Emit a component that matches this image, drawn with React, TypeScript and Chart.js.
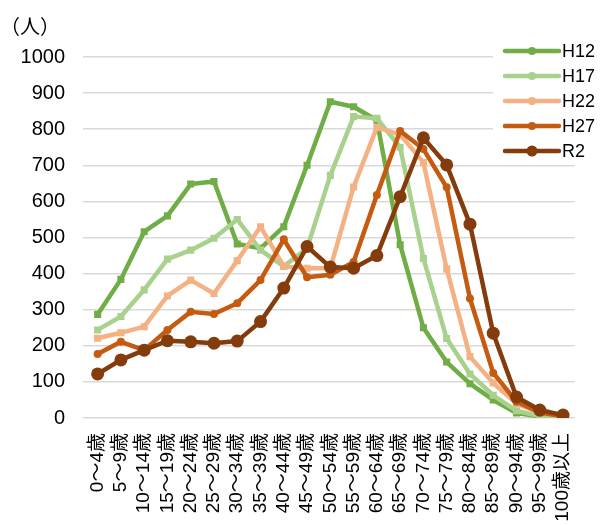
import React, { useEffect, useRef } from "react";
import { Chart, registerables } from "chart.js";

Chart.register(...registerables);

const categories = [
  "0～4歳", "5～9歳", "10～14歳", "15～19歳", "20～24歳", "25～29歳", "30～34歳",
  "35～39歳", "40～44歳", "45～49歳", "50～54歳", "55～59歳", "60～64歳", "65～69歳",
  "70～74歳", "75～79歳", "80～84歳", "85～89歳", "90～94歳", "95～99歳", "100歳以上",
];

const seriesNames = ["H12", "H17", "H22", "H27", "R2"];

const h12 = [287, 384, 516, 560, 648, 655, 482, 470, 530, 700, 876, 862, 825, 480, 250, 155, 95, 50, 14, 4, 1];
const h17 = [244, 281, 355, 440, 465, 498, 550, 465, 420, 470, 672, 835, 830, 750, 442, 220, 122, 63, 20, 5, 2];
const h22 = [221, 236, 253, 338, 382, 345, 436, 530, 420, 415, 415, 640, 805, 785, 708, 413, 170, 97, 40, 15, 5];
const h27 = [177, 211, 188, 244, 294, 288, 318, 382, 495, 390, 397, 432, 618, 795, 745, 639, 331, 125, 45, 15, 5];
const r2 = [122, 161, 188, 214, 211, 207, 213, 267, 360, 475, 418, 415, 450, 613, 776, 701, 537, 235, 58, 22, 8];

const seriesValues = [h12, h17, h22, h27, r2];
const colors = ["#70AD47", "#A9D18E", "#F4B183", "#C55A11", "#843C0C"];
const pointStyles = ["rect", "rect", "rect", "circle", "circle"];
const pointRadii = [5, 5, 5, 4, 6.5];
const legendRadii = [4, 4, 4, 4, 5.5];

const yMin = 0;
const yMax = 1000;
const yStep = 100;
const unitLabel = "（人）";

const latin = '"Liberation Sans", Arial, "Noto Sans CJK JP", sans-serif';

const overlayPlugin = {
  id: "overlay",
  afterDraw(chart: any) {
    const ctx = chart.ctx;
    ctx.save();
    ctx.fillStyle = "#000";
    ctx.font = '20px "Noto Sans CJK JP", sans-serif';
    ctx.textAlign = "center";
    ctx.textBaseline = "middle";
    ctx.fillText(unitLabel, 30, 26);

    ctx.fillStyle = "#fff";
    ctx.fillRect(493, 36, 108, 126);
    chart.data.datasets.forEach((ds: any, i: number) => {
      const y = 51 + i * 25;
      ctx.strokeStyle = ds.borderColor;
      ctx.lineWidth = 4.5;
      ctx.lineCap = "round";
      ctx.beginPath();
      ctx.moveTo(505, y);
      ctx.lineTo(559, y);
      ctx.stroke();
      ctx.fillStyle = ds.borderColor;
      ctx.beginPath();
      ctx.arc(532, y, legendRadii[i], 0, Math.PI * 2);
      ctx.fill();
      ctx.fillStyle = "#000";
      ctx.font = "18px " + latin;
      ctx.textAlign = "left";
      ctx.textBaseline = "middle";
      ctx.fillText(ds.label, 562, y + 1);
    });
    ctx.restore();
  },
};

export default function App() {
  const canvasRef = useRef<HTMLCanvasElement | null>(null);

  useEffect(() => {
    if (!canvasRef.current) return;
    const datasets = seriesNames.map((name, i) => ({
      label: name,
      data: seriesValues[i],
      borderColor: colors[i],
      backgroundColor: colors[i],
      pointBackgroundColor: colors[i],
      pointBorderColor: colors[i],
      pointStyle: pointStyles[i],
      pointRadius: pointRadii[i],
      pointBorderWidth: 0,
      borderWidth: 4.5,
      borderJoinStyle: "round",
      borderCapStyle: "round",
      tension: 0,
      order: seriesNames.length - 1 - i,
    }));
    const chart = new Chart(canvasRef.current, {
      type: "line",
      data: { labels: categories, datasets: datasets as any },
      options: {
        responsive: false,
        animation: false,
        layout: { padding: { top: 57, right: 7, left: 0, bottom: 0 } },
        plugins: { legend: { display: false }, tooltip: { enabled: false } },
        scales: {
          x: {
            type: "category",
            offset: true,
            grid: { display: false, drawTicks: false },
            border: { display: false },
            ticks: {
              autoSkip: false,
              maxRotation: 90,
              minRotation: 90,
              padding: 15,
              color: "#000",
              font: { size: 19, family: latin },
            },
            afterFit(scale: any) {
              scale.height = 107;
            },
          },
          y: {
            min: yMin,
            max: yMax,
            grid: { color: "#D9D9D9", lineWidth: 1.5, drawTicks: true, tickLength: 3 },
            border: { display: false },
            ticks: {
              stepSize: yStep,
              padding: 18,
              color: "#000",
              font: { size: 20, family: latin },
              callback: (v: any) => String(v),
            },
            afterFit(scale: any) {
              scale.width = 86;
            },
          },
        },
      },
      plugins: [overlayPlugin],
    });
    return () => chart.destroy();
  }, []);

  return (
    <div style={{ position: "absolute", left: 0, top: 0, width: 601, height: 525, background: "#fff" }}>
      <canvas ref={canvasRef} width={601} height={525} />
    </div>
  );
}
